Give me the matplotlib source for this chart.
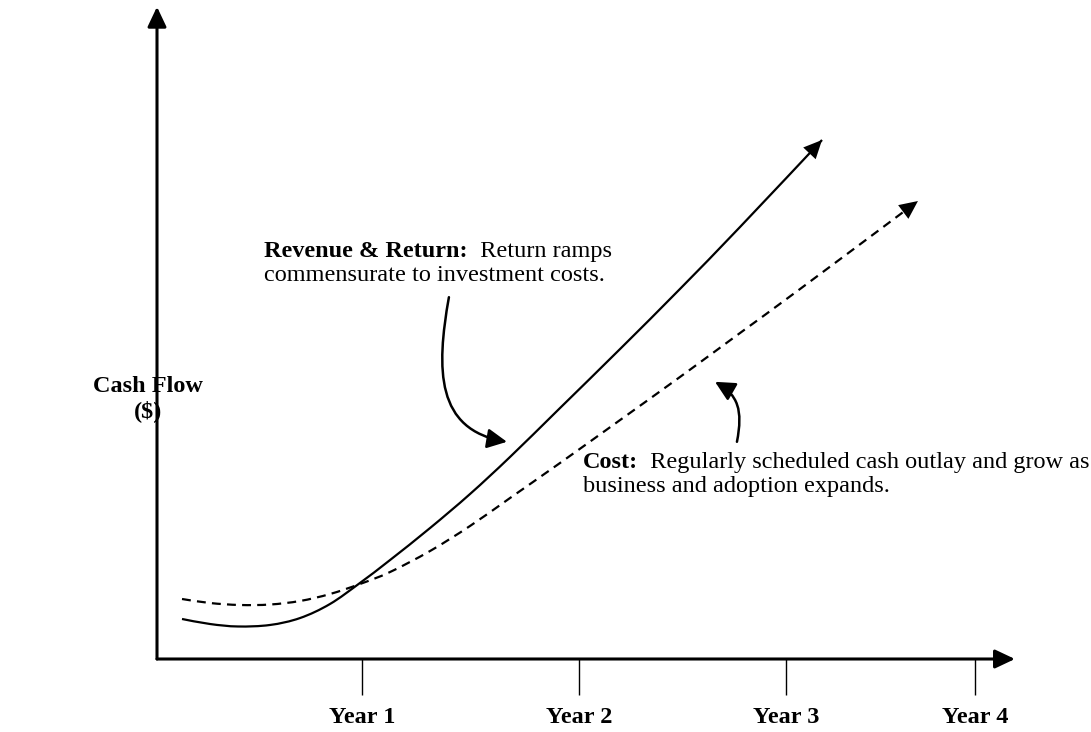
import matplotlib
matplotlib.use("Agg")
import matplotlib.pyplot as plt
from matplotlib.patches import FancyArrowPatch, PathPatch
from matplotlib.path import Path

plt.rcParams['font.family'] = ['Liberation Serif', 'DejaVu Serif']

# x in years, y in cash flow (arbitrary units)
rev_x = [0.122, 0.259, 0.395, 0.551, 0.698, 0.844, 0.990, 1.137, 1.332, 1.527, 1.722, 1.966,
         2.259, 2.551, 2.844, 3.244]
rev_y = [6.67, 5.83, 5.42, 5.67, 6.83, 9.17, 12.67, 16.5, 21.83, 27.5, 33.67, 41.83,
         51.67, 61.67, 72.0, 86.5]
cost_x = [0.122, 0.259, 0.405, 0.551, 0.698, 0.844, 0.990, 1.137, 1.332, 1.527, 1.722, 1.966,
          2.259, 2.551, 2.844, 3.137, 3.712]
cost_y = [10.0, 9.33, 9.0, 9.08, 9.67, 10.83, 12.5, 14.5, 18.0, 22.17, 26.83, 32.67,
          39.83, 47.0, 54.33, 61.67, 76.33]
year_pos = [1.0, 2.06, 3.07, 3.99]
year_labels = ['Year 1', 'Year 2', 'Year 3', 'Year 4']

FS = 17.5


def smooth_path(xs, ys):
    # catmull-rom through the points, drawn as cubic bezier segments
    pts = list(zip(xs, ys))
    verts = [pts[0]]
    codes = [Path.MOVETO]
    n = len(pts)
    for i in range(n - 1):
        p0 = pts[i - 1] if i > 0 else pts[i]
        p1 = pts[i]
        p2 = pts[i + 1]
        p3 = pts[i + 2] if i + 2 < n else pts[i + 1]
        c1 = (p1[0] + (p2[0] - p0[0]) / 6, p1[1] + (p2[1] - p0[1]) / 6)
        c2 = (p2[0] - (p3[0] - p1[0]) / 6, p2[1] - (p3[1] - p1[1]) / 6)
        verts += [c1, c2, p2]
        codes += [Path.CURVE4] * 3
    return Path(verts, codes)


fig = plt.figure(figsize=(10.91, 7.32), dpi=100)
ax = fig.add_axes([157 / 1091, 73 / 732, 934 / 1091, 659 / 732])
ax.set_xlim(0, 934 / 205)
ax.set_ylim(0, 659 / 6)
ax.axis('off')

# axes with arrow heads
axis_arrow = dict(arrowstyle='-|>,head_length=0.55,head_width=0.26', lw=2.2, color='black',
                  mutation_scale=22, shrinkA=0, shrinkB=0)
ax.annotate('', xy=(0, 108.7), xytext=(0, 0), arrowprops=axis_arrow, annotation_clip=False)
ax.annotate('', xy=(4.185, 0), xytext=(0, 0), arrowprops=axis_arrow, annotation_clip=False)

# year ticks below the axis
ax.vlines(year_pos, -6, 0, colors='black', lw=1.0, clip_on=False)
for p, lab in zip(year_pos, year_labels):
    ax.text(p, -9.8, lab, ha='center', va='center', fontsize=FS, fontweight='bold')

ax.text(-0.044, 43.3, 'Cash Flow\n($)', ha='center', va='center', fontsize=FS,
        fontweight='bold', linespacing=1.15)

# curves
ax.add_patch(PathPatch(smooth_path(rev_x, rev_y), fill=False, ec='black', lw=1.6))
ax.add_patch(PathPatch(smooth_path(cost_x, cost_y), fill=False, ec='black', lw=1.6,
                       linestyle=(0, (4, 2.8))))
for xs, ys in [(rev_x, rev_y), (cost_x, cost_y)]:
    head = FancyArrowPatch((xs[-2], ys[-2]), (xs[-1], ys[-1]),
                           arrowstyle='-|>,head_length=0.6,head_width=0.28',
                           mutation_scale=22, lw=0, color='black', shrinkA=0, shrinkB=0)
    ax.add_patch(head)

# callout arrows
rev_call = Path([(1.424, 60.3), (1.361, 48.2), (1.361, 38.2), (1.707, 36.2)],
                [Path.MOVETO, Path.CURVE4, Path.CURVE4, Path.CURVE4])
cost_call = Path([(2.829, 36.2), (2.859, 41.5), (2.834, 44.0), (2.722, 46.2)],
                 [Path.MOVETO, Path.CURVE4, Path.CURVE4, Path.CURVE4])
for pth in [rev_call, cost_call]:
    ax.add_patch(FancyArrowPatch(path=pth, arrowstyle='-|>,head_length=0.6,head_width=0.3',
                                 mutation_scale=20, lw=1.8, color='black'))

# annotation texts
t1 = ax.text(0.522, 67.0, 'Revenue & Return:', fontsize=FS, fontweight='bold', va='baseline')
ax.annotate('  Return ramps', xy=(1, 0), xycoords=t1, va='bottom', ha='left', fontsize=FS)
ax.text(0.522, 63.0, 'commensurate to investment costs.', fontsize=FS, va='baseline')

t2 = ax.text(2.078, 31.8, 'Cost:', fontsize=FS, fontweight='bold', va='baseline')
ax.annotate('  Regularly scheduled cash outlay and grow as', xy=(1, 0), xycoords=t2,
            va='bottom', ha='left', fontsize=FS)
ax.text(2.078, 27.8, 'business and adoption expands.', fontsize=FS, va='baseline')

fig.savefig('out.png', dpi=100)
